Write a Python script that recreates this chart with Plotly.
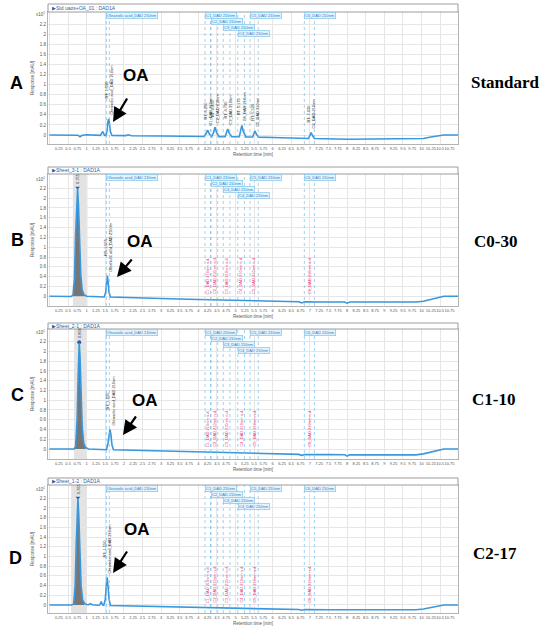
import plotly.graph_objects as go

W, H = 550, 630

# retention time [min] and response [x10 mAU]
std_time = [0.0, 0.5, 0.76, 0.82, 0.88, 1.0, 1.2, 1.37, 1.43, 1.48,
            1.52, 1.55, 1.575, 1.59, 1.61, 1.64, 1.68, 2.05, 2.12, 2.2,
            3.0, 4.15, 4.21, 4.25, 4.29, 4.36, 4.41, 4.45, 4.49, 4.56,
            4.72, 4.76, 4.79, 4.83, 4.9, 5.1, 5.14, 5.17, 5.21, 5.28,
            5.46, 5.5, 5.52, 5.56, 5.62, 6.0, 6.96, 7.0, 7.03, 7.07,
            7.12, 8.0, 9.0, 9.85, 10.05, 10.25, 10.45, 10.6, 10.75, 11.0]
std_resp = [0.0, -0.002, -0.004, -0.035, -0.005, 0.005, 0.0, -0.008, 0.07, -0.008,
            -0.008, 0.1, 0.28, 0.32, 0.24, 0.06, -0.01, -0.012, 0.005, -0.014,
            -0.02, -0.03, 0.03, 0.1, 0.03, -0.03, 0.05, 0.155, 0.05, -0.032,
            -0.033, 0.05, 0.12, 0.04, -0.034, -0.036, 0.08, 0.19, 0.07, -0.037,
            -0.04, 0.04, 0.08, 0.02, -0.042, -0.05, -0.07, -0.01, 0.05, -0.01,
            -0.07, -0.085, -0.085, -0.085, -0.07, -0.04, -0.01, 0.0, 0.0, 0.0]

c030_time = [0.0, 0.3, 0.58, 0.63, 0.67, 0.7, 0.73, 0.755, 0.78, 0.81,
             0.84, 0.88, 0.93, 1.0, 1.2, 1.47, 1.51, 1.535, 1.555, 1.575,
             1.6, 1.64, 2.0, 3.0, 4.0, 5.0, 6.0, 6.7, 6.78, 6.86,
             7.3, 7.93, 8.0, 8.07, 9.0, 9.85, 10.05, 10.25, 10.45, 10.6,
             10.75, 11.0]
c030_resp = [0.0, 0.0, -0.003, 0.02, 0.35, 1.2, 2.0, 2.19, 1.85, 1.05,
             0.45, 0.12, 0.03, 0.0, -0.01, -0.015, 0.08, 0.3, 0.42, 0.3,
             0.08, -0.015, -0.02, -0.045, -0.065, -0.085, -0.1, -0.11, -0.135, -0.112,
             -0.115, -0.118, -0.14, -0.118, -0.118, -0.118, -0.1, -0.06, -0.02, 0.0,
             0.0, 0.0]

c110_time = [0.0, 0.4, 0.66, 0.7, 0.74, 0.77, 0.8, 0.82, 0.85, 0.88,
             0.92, 0.97, 1.05, 1.3, 1.53, 1.57, 1.6, 1.625, 1.65, 1.68,
             1.72, 2.0, 3.0, 4.25, 5.5, 6.7, 6.78, 6.86, 7.5, 7.94,
             8.0, 8.06, 9.0, 9.85, 10.05, 10.25, 10.45, 10.6, 10.75, 11.0]
c110_resp = [0.0, 0.0, 0.0, 0.05, 0.55, 1.5, 2.17, 1.9, 1.1, 0.45,
             0.12, 0.03, 0.0, -0.01, -0.015, 0.1, 0.3, 0.4, 0.3, 0.08,
             -0.015, -0.02, -0.035, -0.05, -0.08, -0.11, -0.13, -0.112, -0.115, -0.117,
             -0.145, -0.117, -0.12, -0.12, -0.1, -0.06, -0.02, 0.0, 0.0, 0.0]

c217_time = [0.0, 0.4, 0.6, 0.65, 0.69, 0.72, 0.745, 0.765, 0.79, 0.82,
             0.85, 0.89, 0.94, 1.0, 1.05, 1.1, 1.15, 1.3, 1.35, 1.39,
             1.43, 1.46, 1.5, 1.53, 1.55, 1.57, 1.6, 1.64, 2.0, 3.0,
             4.25, 5.5, 6.7, 6.78, 6.86, 7.5, 7.94, 8.0, 8.06, 9.0,
             9.85, 10.05, 10.25, 10.45, 10.6, 10.75, 11.0]
c217_resp = [0.0, 0.0, 0.0, 0.02, 0.4, 1.3, 2.05, 2.19, 1.8, 1.0,
             0.4, 0.1, 0.03, 0.01, 0.005, 0.025, 0.005, -0.005, 0.0, 0.07,
             0.0, -0.005, 0.12, 0.42, 0.57, 0.42, 0.12, -0.01, -0.015, -0.03,
             -0.05, -0.07, -0.095, -0.11, -0.095, -0.1, -0.1, -0.115, -0.1, -0.1,
             -0.1, -0.085, -0.05, -0.015, 0.0, 0.0, 0.0]

sample_names = ["Standard", "C0-30", "C1-10", "C2-17"]
panel_letters = ["A", "B", "C", "D"]
sheet_names = ["Std uaos+OA_01 : DAD1A", "Sheet_3-1 : DAD1A",
               "Sheet_2-1 : DAD1A", "Sheet_1-2 : DAD1A"]

# integration windows of the processing method
window_names = ["Oleanolic acid_DAD 210nm", "C1_DAD 210nm", "C2_DAD 210nm",
                "C3_DAD 210nm", "C4_DAD 210nm", "C5_DAD 210nm", "C6_DAD 210nm"]
window_start = [1.53, 4.18, 4.34, 4.67, 5.06, 5.39, 6.85]
window_end = [1.61, 4.33, 4.52, 4.85, 5.24, 5.61, 7.12]
window_row = [0, 0, 1, 2, 3, 0, 0]

# big solvent/matrix peak shaded region (samples only)
main_peak_lo = [None, 0.63, 0.66, 0.58]
main_peak_hi = [None, 1.02, 1.0, 0.99]

# ---- styling / pixel layout
BLUE = "#3b97dc"
WIN = "#74c0ec"
GRID = "#e6e6e6"
PINK = "#e8357a"
FONT = "Arial, Liberation Sans, sans-serif"
SERIF = "Times New Roman, Liberation Serif, serif"

frame_top = [4, 167, 323, 478]
plot_top = [12, 174, 329, 485]
plot_bottom = [144, 306, 459, 613]
y_ranges = [[-0.179, 2.445], [-0.198, 2.492], [-0.205, 2.46], [-0.166, 2.474]]
X_LEFT, X_RIGHT = 48, 458
x_range = [-0.04, 10.98]

letter_pos = [(16, 83), (17, 240), (17, 395), (15, 558)]
name_pos = [(505, 83), (495, 242), (493, 399), (495, 553)]
oa_pos = [(136, 75), (140, 242), (145, 400), (137, 529)]
arrow_tip = [(113, 122), (117, 277), (123, 435), (113, 573)]
arrow_tail = [(128, 97), (133, 258), (137, 415), (128, 550)]


def px(x):
    return x / W


def py(y):
    return 1 - y / H


def label(x, y, text, size, family=FONT, color="black", angle=0):
    return dict(xref="paper", yref="paper", x=px(x), y=py(y), xanchor="center",
                yanchor="middle", showarrow=False, text=text, textangle=angle,
                font=dict(size=size, color=color, family=family))


times = [std_time, c030_time, c110_time, c217_time]
resps = [std_resp, c030_resp, c110_resp, c217_resp]

xticks = [k / 4 for k in range(1, 44)]
yticks = [k / 5 for k in range(0, 12)]

fig = go.Figure()
layout = dict(width=W, height=H, margin=dict(l=0, r=0, t=0, b=0),
              paper_bgcolor="white", plot_bgcolor="white", showlegend=False,
              font=dict(family=FONT))
shapes = []
annotations = []

for i in range(4):
    sfx = "" if i == 0 else str(i + 1)
    xn, yn = "x" + sfx, "y" + sfx
    t, r = times[i], resps[i]

    layout["xaxis" + sfx] = dict(
        domain=[px(X_LEFT), px(X_RIGHT)], range=x_range, anchor=yn,
        tickmode="array", tickvals=xticks, ticks="", showgrid=False, tickangle=0,
        minor=dict(tick0=0, dtick=0.5, showgrid=True, gridcolor=GRID, gridwidth=0.7),
        tickfont=dict(size=4, color="#555"), showline=True, mirror=True,
        linecolor="#b3b3b3", linewidth=1, zeroline=False, fixedrange=True)
    layout["yaxis" + sfx] = dict(
        domain=[py(plot_bottom[i]), py(plot_top[i])], range=y_ranges[i], anchor=xn,
        tickmode="array", tickvals=yticks, ticks="", showgrid=True,
        gridcolor=GRID, gridwidth=0.7, tickfont=dict(size=4.5, color="#555"),
        showline=True, mirror=True, linecolor="#b3b3b3", linewidth=1,
        zeroline=False, fixedrange=True)

    # header bar
    shapes.append(dict(type="rect", xref="paper", yref="paper",
                       x0=px(X_LEFT), x1=px(X_RIGHT), y0=py(plot_top[i]), y1=py(frame_top[i]),
                       fillcolor="white", line=dict(color="#9c9c9c", width=1)))
    annotations.append(dict(xref="paper", yref="paper", x=px(X_LEFT + 2),
                            y=py((frame_top[i] + plot_top[i]) / 2), xanchor="left",
                            yanchor="middle", showarrow=False, text="\u25b6" + sheet_names[i],
                            font=dict(size=5, color="#1e5fb0")))

    # shaded main peak
    if main_peak_lo[i] is not None:
        lo, hi = main_peak_lo[i], main_peak_hi[i]
        shapes.append(dict(type="rect", xref=xn, yref=yn + " domain", x0=lo, x1=hi,
                           y0=0, y1=1, fillcolor="#dadada", opacity=0.75,
                           line=dict(width=0), layer="below"))
        sub = [(a, b) for a, b in zip(t, r) if lo <= a <= hi]
        fig.add_trace(go.Scatter(x=[a for a, _ in sub], y=[b for _, b in sub],
                                 mode="lines", fill="tozeroy",
                                 fillcolor="rgba(105,105,105,0.9)",
                                 line=dict(width=0), xaxis=xn, yaxis=yn,
                                 hoverinfo="skip"))
        k = max((j for j in range(len(t)) if lo <= t[j] <= hi), key=lambda j: r[j])
        fig.add_trace(go.Scatter(x=[t[k]], y=[r[k] + 0.02], mode="markers",
                                 marker=dict(symbol="circle" if i == 2 else "triangle-down",
                                             size=4, color="#1f5fb8"),
                                 xaxis=xn, yaxis=yn, hoverinfo="skip"))
        annotations.append(dict(xref=xn, yref=yn, x=t[k], y=r[k] + 0.06,
                                text=f"{t[k]:.3f}", textangle=-90, showarrow=False,
                                xanchor="center", yanchor="bottom",
                                font=dict(size=4, color="#333")))

    # window lines and labels
    for w in range(len(window_names)):
        for xv in (window_start[w], window_end[w]):
            shapes.append(dict(type="line", xref=xn, yref=yn + " domain",
                               x0=xv, x1=xv, y0=0, y1=1,
                               line=dict(color=WIN, width=0.7, dash="dot")))
        annotations.append(dict(xref=xn, yref=yn + " domain", x=window_start[w], y=1,
                                xanchor="left", yanchor="top", yshift=-window_row[w] * 6,
                                text=window_names[w], showarrow=False,
                                font=dict(size=4, color="#2a86c8"),
                                bgcolor="#e3f2fc", bordercolor=WIN, borderwidth=0.6,
                                borderpad=0.4))
        if w == 0:
            idx = [j for j in range(len(t)) if 1.45 <= t[j] <= 1.75]
        else:
            idx = [j for j in range(len(t))
                   if window_start[w] - 0.06 <= t[j] <= window_end[w] + 0.06]
        k = max(idx, key=lambda j: r[j]) if idx else None
        if k is not None and r[k] > 0.03:
            annotations.append(dict(xref=xn, yref=yn, x=t[k], y=r[k] + 0.04,
                                    text=f"RT: {t[k]:.3f}<br>{window_names[w]}",
                                    textangle=-90, showarrow=False,
                                    xanchor="center", yanchor="bottom",
                                    font=dict(size=4, color="#333")))
        else:
            annotations.append(dict(xref=xn, yref=yn,
                                    x=(window_start[w] + window_end[w]) / 2, y=0.0,
                                    text=window_names[w] + " n.d.", textangle=-90,
                                    showarrow=False, xanchor="center", yanchor="bottom",
                                    font=dict(size=4, color=PINK)))

    # chromatogram
    fig.add_trace(go.Scatter(x=t, y=r, mode="lines", line=dict(color=BLUE, width=1.6),
                             xaxis=xn, yaxis=yn, hoverinfo="skip"))

    # axis texts
    annotations.append(dict(xref="paper", yref=yn, x=px(X_LEFT - 1), y=2.4,
                            xanchor="right", yanchor="middle", showarrow=False,
                            text="x10<sup>1</sup>", font=dict(size=4.5, color="#555")))
    annotations.append(label(32, (plot_top[i] + plot_bottom[i]) / 2, "Response [mAU]",
                             4.5, color="#555", angle=-90))
    annotations.append(label((X_LEFT + X_RIGHT) / 2, plot_bottom[i] + 10,
                             "Retention time [min]", 4.5, color="#555"))

    # figure labels
    lx, ly = letter_pos[i]
    annotations.append(label(lx, ly, "<b>" + panel_letters[i] + "</b>", 18))
    nx, ny = name_pos[i]
    annotations.append(label(nx, ny, "<b>" + sample_names[i] + "</b>", 17, family=SERIF))
    ox, oy = oa_pos[i]
    annotations.append(label(ox, oy, "<b>OA</b>", 17))
    (tx, ty), (ax, ay) = arrow_tip[i], arrow_tail[i]
    annotations.append(dict(xref="paper", yref="paper", x=px(tx), y=py(ty),
                            ax=ax - tx, ay=ay - ty, text="", showarrow=True,
                            arrowhead=2, arrowsize=1.3, arrowwidth=2.2, arrowcolor="black"))

layout["shapes"] = shapes
layout["annotations"] = annotations
fig.update_layout(**layout)
# the page body has a default 8px margin; drop it so the figure fills the window
fig.write_html("out.html", config={"displayModeBar": False},
               post_script="document.body.style.margin='0px';")
